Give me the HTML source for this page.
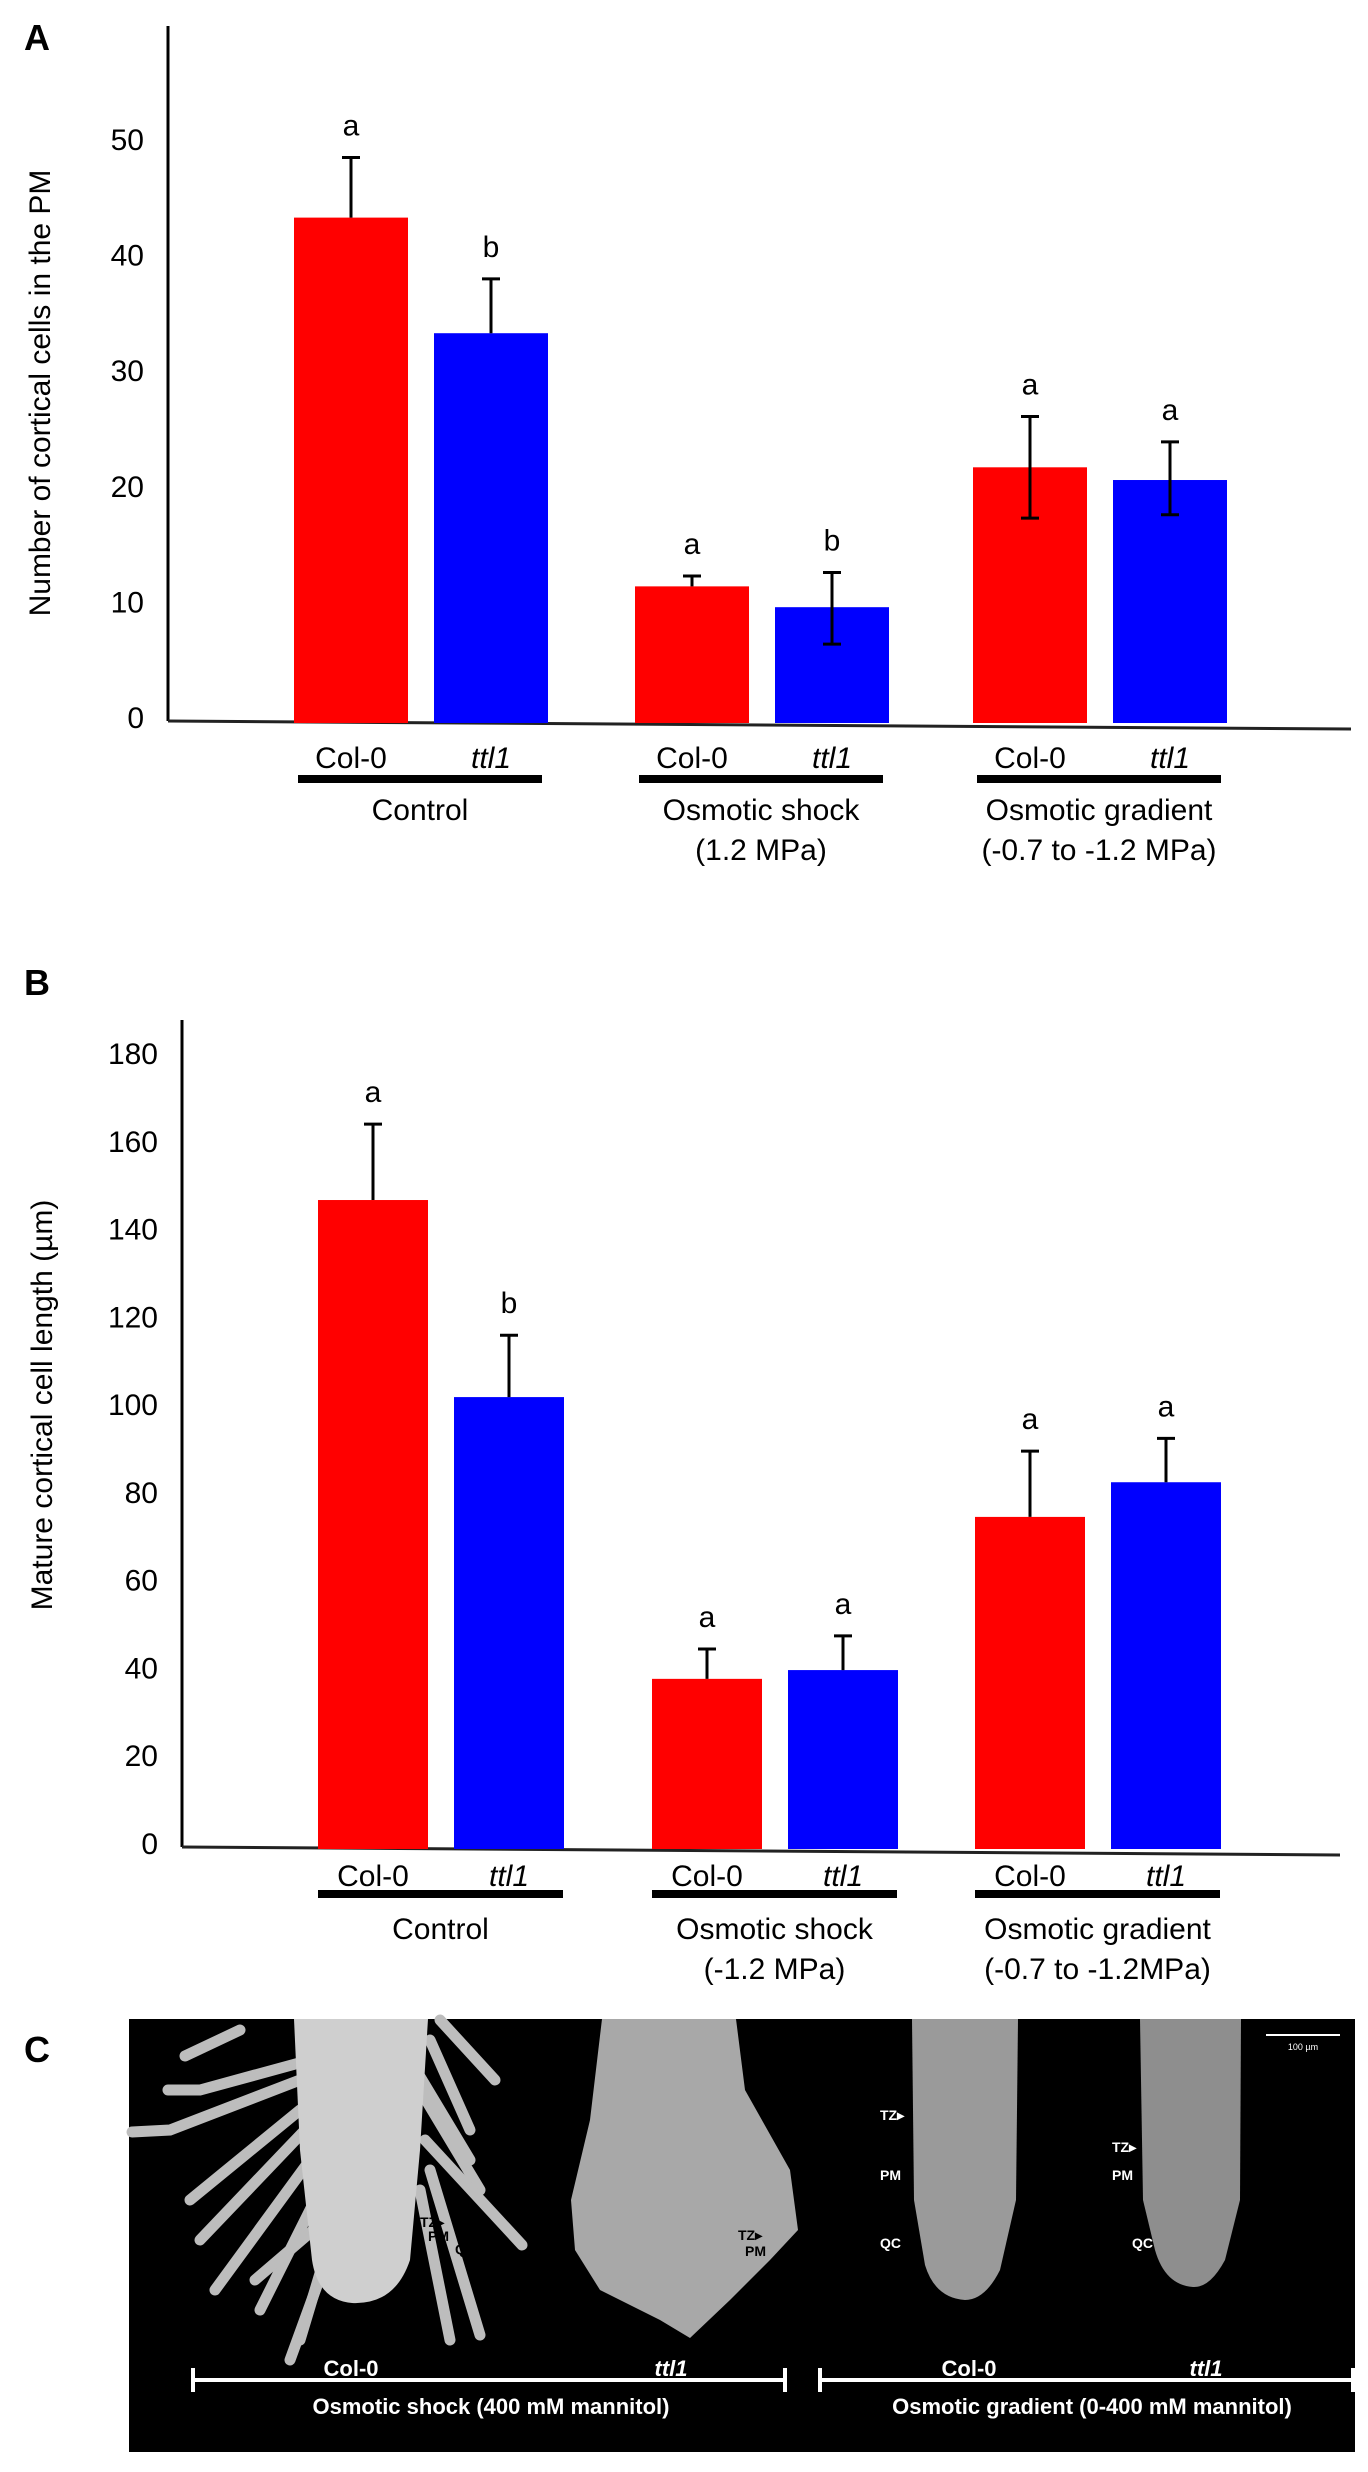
<!DOCTYPE html>
<html><head><meta charset="utf-8"><style>
html,body{margin:0;padding:0;background:#fff}
svg{display:block}
text{font-family:"Liberation Sans",Arial,sans-serif}
</style></head><body>
<svg id="fig" width="1368" height="2472" viewBox="0 0 1368 2472" xmlns="http://www.w3.org/2000/svg">
<g id="panelA">
<text x="24" y="50" font-size="36" font-weight="bold">A</text>
<text transform="translate(50,393) rotate(-90)" text-anchor="middle" font-size="30">Number of cortical cells in the PM</text>
</g>
<g id="panelB">
<text x="24" y="995" font-size="36" font-weight="bold">B</text>
<text transform="translate(52,1405) rotate(-90)" text-anchor="middle" font-size="30">Mature cortical cell length (µm)</text>
</g>
<g id="panelC">
<text x="24" y="2062" font-size="36" font-weight="bold">C</text>
<rect x="129" y="2019" width="1226" height="433" fill="#000"/>
<g stroke="#bdbdbd" stroke-width="11" stroke-linecap="round" fill="none">
<path d="M300,2080 L170,2130 L132,2132"/><path d="M310,2060 L200,2090 L168,2090"/><path d="M240,2030 L185,2056"/>
<path d="M300,2110 L190,2200"/><path d="M305,2130 L200,2240"/><path d="M310,2160 L215,2290"/><path d="M320,2190 L260,2310"/>
<path d="M325,2220 L255,2280"/><path d="M330,2240 L300,2340"/><path d="M330,2250 L290,2360"/>
<path d="M410,2060 L470,2160"/><path d="M420,2090 L480,2190"/><path d="M425,2140 L522,2245"/><path d="M430,2170 L480,2335"/>
<path d="M420,2190 L450,2340"/><path d="M440,2020 L495,2080"/><path d="M430,2040 L470,2130"/>
</g>
<path d="M294,2019 L428,2019 L420,2150 L410,2260 Q395,2305 352,2303 Q318,2300 312,2260 L300,2150 Z" fill="#cfcfcf"/>
<path d="M602,2019 L736,2019 L745,2090 L790,2170 L798,2230 L770,2260 L730,2300 L690,2338 L660,2320 L600,2290 L575,2250 L571,2200 L590,2120 Z" fill="#a8a8a8"/>
<path d="M912,2019 L1018,2019 L1016,2200 L1000,2270 Q985,2300 965,2300 Q935,2298 925,2265 L914,2200 Z" fill="#9a9a9a"/>
<path d="M1140,2019 L1241,2019 L1240,2200 L1225,2260 Q1210,2288 1193,2287 Q1165,2285 1155,2250 L1143,2200 Z" fill="#8e8e8e"/>
<g font-size="14" font-weight="bold">
<text x="420" y="2227" fill="#000">TZ▸</text><text x="428" y="2241" fill="#000">PM</text><text x="455" y="2254" fill="#000">QC</text>
<text x="738" y="2240" fill="#000">TZ▸</text><text x="745" y="2256" fill="#000">PM</text><text x="780" y="2256" fill="#000">QC</text>
<text x="880" y="2120" fill="#fff">TZ▸</text><text x="880" y="2180" fill="#fff">PM</text><text x="880" y="2248" fill="#fff">QC</text>
<text x="1112" y="2152" fill="#fff">TZ▸</text><text x="1112" y="2180" fill="#fff">PM</text><text x="1132" y="2248" fill="#fff">QC</text>
</g>
<line x1="1266" y1="2035" x2="1340" y2="2035" stroke="#fff" stroke-width="2"/>
<text x="1303" y="2050" fill="#fff" font-size="9" text-anchor="middle">100 µm</text>
<g stroke="#fff" stroke-width="4">
<line x1="193" y1="2380" x2="785" y2="2380"/><line x1="193" y1="2368" x2="193" y2="2392"/><line x1="785" y1="2368" x2="785" y2="2392"/>
<line x1="820" y1="2380" x2="1355" y2="2380"/><line x1="820" y1="2368" x2="820" y2="2392"/><line x1="1353" y1="2368" x2="1353" y2="2392"/>
</g>
<g fill="#fff" font-size="22" font-weight="bold" text-anchor="middle">
<text x="351" y="2376">Col-0</text><text x="671" y="2376" font-style="italic">ttl1</text>
<text x="969" y="2376">Col-0</text><text x="1206" y="2376" font-style="italic">ttl1</text>
<text x="491" y="2414">Osmotic shock  (400 mM mannitol)</text>
<text x="1092" y="2414">Osmotic gradient  (0-400 mM mannitol)</text>
</g>
</g>
</svg>
<script>
// Panel A data
const aGenotypes = ["Col-0","ttl1","Col-0","ttl1","Col-0","ttl1"];
const aValues = [43.2, 33.2, 11.3, 9.5, 21.6, 20.5];
const aErrHi = [48.4, 37.9, 12.2, 12.5, 26.0, 23.8];
const aErrLo = [43.2, 33.2, 11.3, 6.3, 17.2, 17.5];
const aLetters = ["a","b","a","b","a","a"];
const aTicks = [0,10,20,30,40,50];
const aGroups = ["Control","Osmotic shock","Osmotic gradient"];
const aGroups2 = ["","(1.2 MPa)","(-0.7 to -1.2 MPa)"];
// Panel B data
const bValues = [146.5, 101.6, 37.4, 39.4, 74.3, 82.2];
const bErrHi = [163.8, 115.7, 44.2, 47.2, 89.3, 92.2];
const bErrLo = [146.5, 101.6, 37.4, 39.4, 74.3, 82.2];
const bLetters = ["a","b","a","a","a","a"];
const bTicks = [0,20,40,60,80,100,120,140,160,180];
const bGroups2 = ["","(-1.2 MPa)","(-0.7 to -1.2MPa)"];

const NS="http://www.w3.org/2000/svg";
function mk(tag,attrs,parent,txt){const e=document.createElementNS(NS,tag);for(const k in attrs)e.setAttribute(k,attrs[k]);if(txt!==undefined)e.textContent=txt;parent.appendChild(e);return e;}

function drawChart(g,cfg){
  const y=v=>cfg.y0-(v-cfg.vmin)*(cfg.y0-cfg.yTop)/(cfg.vmax-cfg.vmin);
  const ax=mk('line',{x1:cfg.ax,y1:cfg.axTop,x2:cfg.ax,y2:cfg.y0+4,stroke:'#000','stroke-width':3},g);
  
  
  const xa=mk('line',{x1:cfg.ax,y1:cfg.y0+4,x2:cfg.axEnd,y2:cfg.y0+12,stroke:'#222','stroke-width':3},g);
  
  
  cfg.ticks.forEach(t=>{
    const tt=mk('text',{x:cfg.ax-24,y:y(t)+11,'text-anchor':'end','font-size':30},g,String(t));
    
    
  });
  cfg.values.forEach((v,i)=>{
    const gi=Math.floor(i/2), x=cfg.gx[gi]+(i%2)*cfg.gap, w=cfg.bw;
    const col=i%2===0?'#ff0000':'#0000ff';
    const r=mk('rect',{x:x,y:y(v),width:w,height:cfg.y0+6-y(v),fill:col},g);
    
    
    const cx=x+w/2;
    const eb=mk('path',{d:`M${cx},${y(cfg.lo[i])} L${cx},${y(cfg.hi[i])} M${cx-9},${y(cfg.hi[i])} L${cx+9},${y(cfg.hi[i])}`+(cfg.lo[i]<v?` M${cx-9},${y(cfg.lo[i])} L${cx+9},${y(cfg.lo[i])}`:''),stroke:'#000','stroke-width':3,fill:'none'},g);
    
    
    const lt=mk('text',{x:cx,y:y(cfg.hi[i])-22,'text-anchor':'middle','font-size':30},g,cfg.letters[i]);
    
    
    const gl=mk('text',{x:cx,y:cfg.labY,'text-anchor':'middle','font-size':30,'font-style':i%2?'italic':'normal'},g,aGenotypes[i]);
    
    
  });
  cfg.gx.forEach((gx,gi)=>{
    const b=mk('rect',{x:gx+cfg.lineOff[0],y:cfg.lineY,width:cfg.lineW,height:8,fill:'#000'},g);
    
    
    const cx=gx+cfg.lineOff[0]+cfg.lineW/2;
    const t1=mk('text',{x:cx,y:cfg.grpY,'text-anchor':'middle','font-size':30},g,aGroups[gi]);
    
    
    if(cfg.groups2[gi]){
      const t2=mk('text',{x:cx,y:cfg.grpY+40,'text-anchor':'middle','font-size':30},g,cfg.groups2[gi]);
      
      
    }
  });
}
drawChart(document.getElementById('panelA'),{y0:717,yTop:139,vmin:0,vmax:50,ax:168,axTop:26,axEnd:1351,ticks:aTicks,values:aValues,hi:aErrHi,lo:aErrLo,letters:aLetters,gx:[294,635,973],gap:140,bw:114,labY:768,lineY:775,lineOff:[4,0],lineW:244,grpY:820,groups2:aGroups2});
drawChart(document.getElementById('panelB'),{y0:1843,yTop:1053,vmin:0,vmax:180,ax:182,axTop:1020,axEnd:1340,ticks:bTicks,values:bValues,hi:bErrHi,lo:bErrLo,letters:bLetters,gx:[318,652,975],gap:136,bw:110,labY:1886,lineY:1890,lineOff:[0,0],lineW:245,grpY:1939,groups2:bGroups2});
</script>
</body></html>
